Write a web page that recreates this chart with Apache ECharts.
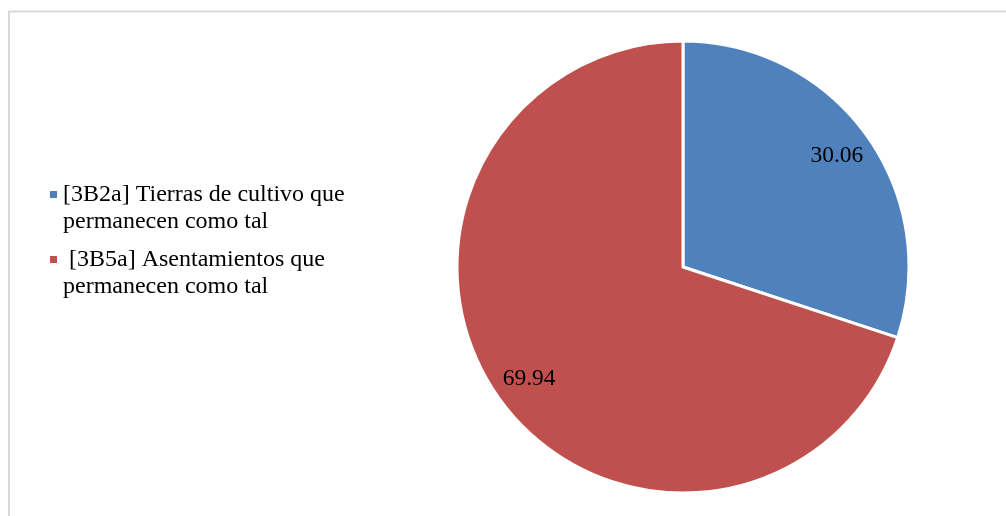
<!DOCTYPE html>
<html>
<head>
<meta charset="utf-8">
<script src="https://cdn.jsdelivr.net/npm/echarts@6/dist/echarts.min.js"></script>
<style>
  html, body { margin: 0; padding: 0; background: #ffffff; }
  #chart { width: 1006px; height: 516px; }
</style>
</head>
<body>
<div id="chart"></div>
<script>
// Categories and their shares (%)
const categories = [
  '[3B2a] Tierras de cultivo que\npermanecen como tal',
  ' [3B5a] Asentamientos que\npermanecen como tal'
];
const values = [30.06, 69.94];
const colors = ['#4F81BD', '#C0504D'];

const FONT = '"Liberation Serif", "Times New Roman", serif';
const pieData = categories.map((name, i) => ({ name, value: values[i], itemStyle: { color: colors[i] } }));

const chart = echarts.init(document.getElementById('chart'), null, { renderer: 'canvas' });
chart.setOption({
  animation: false,
  backgroundColor: '#ffffff',
  graphic: [{
    type: 'rect',
    shape: { x: 9, y: 11.5, width: 1010, height: 520 },
    style: { fill: 'none', stroke: '#d9d9d9', lineWidth: 2 },
    silent: true,
    z: -10
  }],
  legend: {
    orient: 'vertical',
    left: 50,
    top: 154,
    padding: 0,
    itemGap: -16,
    itemWidth: 7,
    itemHeight: 7,
    icon: 'rect',
    itemStyle: { borderWidth: 0 },
    selectedMode: false,
    data: categories,
    // a blank leading line keeps the marker level with the first text line
    formatter: name => '\u00a0\n' + name,
    textStyle: {
      fontFamily: FONT,
      fontSize: 24,
      lineHeight: 27,
      color: '#000000',
      padding: [0, 0, 0, 1]
    }
  },
  series: [
    {
      name: 'share',
      type: 'pie',
      center: [683, 267],
      radius: [0, 226],
      startAngle: 90,
      clockwise: true,
      itemStyle: { borderColor: '#ffffff', borderWidth: 3 },
      label: { show: false },
      labelLine: { show: false },
      data: pieData,
      silent: true
    },
    {
      // transparent ring that places the value labels near the rim
      name: 'labels',
      type: 'pie',
      center: [683, 267],
      radius: [148, 226],
      startAngle: 90,
      clockwise: true,
      silent: true,
      legendHoverLink: false,
      itemStyle: { color: 'rgba(0,0,0,0)', borderWidth: 0 },
      label: {
        show: true,
        position: 'inside',
        formatter: p => p.value.toFixed(2),
        fontFamily: FONT,
        fontSize: 23.5,
        color: '#000000'
      },
      labelLine: { show: false },
      data: categories.map((name, i) => ({ name, value: values[i] }))
    }
  ]
});
</script>
</body>
</html>
